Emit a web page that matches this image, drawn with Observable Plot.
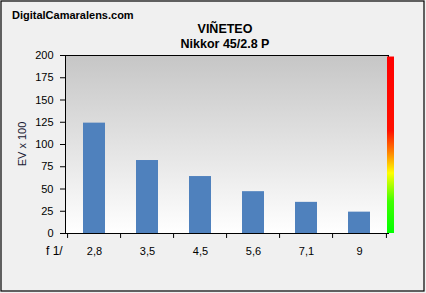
<!DOCTYPE html>
<html>
<head>
<meta charset="utf-8">
<script src="https://cdn.jsdelivr.net/npm/d3@7"></script>
<script src="https://cdn.jsdelivr.net/npm/@observablehq/plot@0.6"></script>
<style>
  html, body { margin: 0; padding: 0; background: #f0f0f0; }
  #wrap { position: relative; width: 426px; height: 293px; font-family: "Liberation Sans", Arial, sans-serif; }
  .t { position: absolute; white-space: nowrap; color: #000; }
</style>
</head>
<body>
<div id="wrap">
  <div id="chart"></div>
  <div class="t" style="left:12px;top:9px;font-size:11px;font-weight:bold;">DigitalCamaralens.com</div>
  <div class="t" style="left:0;width:450px;top:22px;text-align:center;font-size:12.5px;font-weight:bold;line-height:14.5px;">VIÑETEO<br>Nikkor 45/2.8 P</div>
  <div class="t" style="left:46px;top:244px;font-size:12px;">f 1/</div>
</div>
<script>
const apertures = ["2,8", "3,5", "4,5", "5,6", "7,1", "9"];
const vignetting = [124, 82, 64, 47, 35, 24];
const yTicks = [0, 25, 50, 75, 100, 125, 150, 175, 200];

const data = apertures.map((a, i) => ({aperture: a, value: vignetting[i]}));

const W = 426, H = 293, mL = 65, mR = 38, mT = 55, mB = 60;
const step = (W - mL - mR) / apertures.length;

const plot = Plot.plot({
  width: W,
  height: H,
  marginLeft: mL,
  marginRight: mR,
  marginTop: mT,
  marginBottom: mB,
  style: {background: "transparent", fontFamily: "'Liberation Sans', Arial, sans-serif", fontSize: "11px", color: "#000"},
  x: {type: "band", domain: apertures, paddingInner: 0.59, paddingOuter: 0.295, label: null},
  y: {domain: [0, 200], label: null},
  marks: [
    Plot.frame({fill: "url(#bgGrad)"}),
    Plot.barY(data, {x: "aperture", y: "value", fill: "#4f81bd"}),
    Plot.axisY({ticks: yTicks, tickSize: 5, tickPadding: 7, label: null, stroke: "#000"}),
    Plot.axisX({tickSize: 0, tickPadding: 14, label: null}),
    Plot.ruleX(apertures, {x: d => d, dx: -step / 2, y1: 0, y2: -5.6, stroke: "#000"}),
    Plot.ruleX(apertures.slice(-1), {x: d => d, dx: step / 2, y1: 0, y2: -5.6, stroke: "#000"}),
    Plot.frame({stroke: "#000", strokeWidth: 1})
  ]
});

const svg = d3.select(plot);
svg.style("display", "block");
const defs = svg.insert("defs", ":first-child");
const bg = defs.append("linearGradient").attr("id", "bgGrad").attr("x1", 0).attr("y1", 0).attr("x2", 0).attr("y2", 1);
bg.append("stop").attr("offset", "0%").attr("stop-color", "#c6c6c6");
bg.append("stop").attr("offset", "100%").attr("stop-color", "#ffffff");
const cb = defs.append("linearGradient").attr("id", "cbGrad").attr("x1", 0).attr("y1", 0).attr("x2", 0).attr("y2", 1);
[["0%", "#ff0000"], ["42%", "#ff1000"], ["54%", "#ff8000"], ["66%", "#ffff00"], ["82%", "#40ff00"], ["100%", "#00ff00"]]
  .forEach(([o, c]) => cb.append("stop").attr("offset", o).attr("stop-color", c));

const ys = plot.scale("y");
const yTop = ys.apply(198.3), yBot = ys.apply(0);
svg.append("rect")
  .attr("x", W - mR - 1).attr("y", yTop)
  .attr("width", 7).attr("height", yBot - yTop)
  .attr("fill", "url(#cbGrad)");

svg.append("text")
  .attr("transform", `translate(22,${(mT + H - mB) / 2}) rotate(-90)`)
  .attr("text-anchor", "middle")
  .attr("dy", "0.35em")
  .attr("fill", "#1a1a33")
  .style("font-size", "11px")
  .text("EV x 100");

svg.append("rect")
  .attr("x", 1).attr("y", 1).attr("width", 423).attr("height", 290)
  .attr("fill", "none").attr("stroke", "#000").attr("stroke-width", 1.2);

document.getElementById("chart").appendChild(plot);
</script>
</body>
</html>
